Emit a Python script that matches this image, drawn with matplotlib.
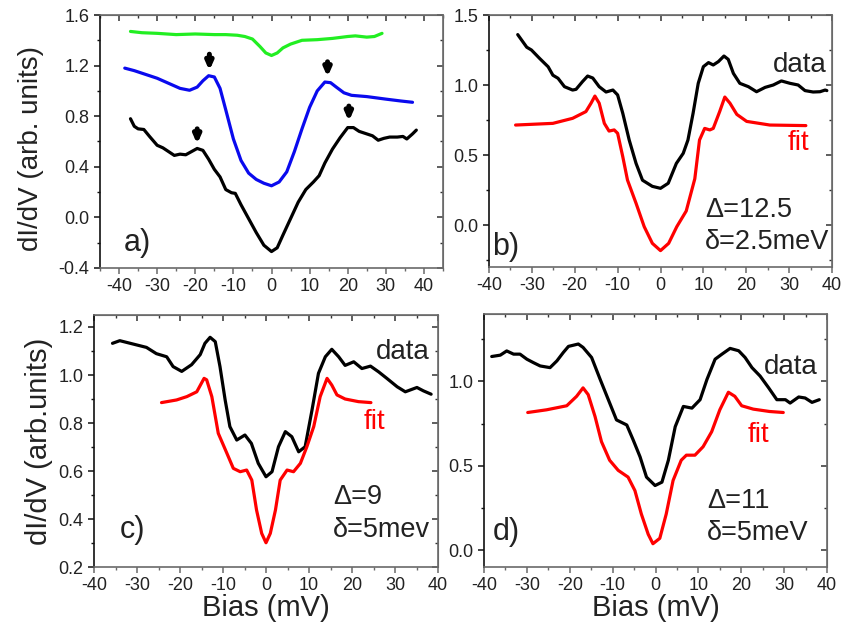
import matplotlib
matplotlib.use("Agg")
import matplotlib.pyplot as plt
from matplotlib.ticker import MultipleLocator

plt.rcParams['font.family'] = ['Liberation Sans', 'DejaVu Sans']
plt.rcParams['axes.unicode_minus'] = False
plt.rcParams['lines.solid_joinstyle'] = 'round'
plt.rcParams['lines.solid_capstyle'] = 'round'

# ---------------- Panel a ----------------
a_green_x = [-37, -34, -30, -25, -20, -15, -12, -9, -7, -5, -3, -1.5, 0, 1.5, 3, 5, 8, 12, 16, 20, 22, 25, 27, 29]
a_green_y = [1.47, 1.46, 1.455, 1.445, 1.45, 1.445, 1.445, 1.44, 1.43, 1.41, 1.35, 1.30, 1.28, 1.30, 1.34, 1.37,
             1.40, 1.405, 1.415, 1.43, 1.435, 1.425, 1.43, 1.455]

a_blue_x = [-38.5, -36, -33, -30, -27, -24, -21.5, -19.5, -18, -16.5, -15, -13.5, -12, -10, -8, -6, -4, -2, 0,
            2, 4, 6, 8, 10, 12, 14, 15.5, 17, 19, 21, 25, 30, 34, 37]
a_blue_y = [1.18, 1.16, 1.13, 1.10, 1.06, 1.02, 1.005, 1.03, 1.08, 1.12, 1.11, 1.02, 0.85, 0.62, 0.45, 0.35, 0.30,
            0.27, 0.25, 0.28, 0.36, 0.52, 0.70, 0.87, 1.00, 1.07, 1.065, 1.03, 0.985, 0.965, 0.955, 0.935, 0.92, 0.91]

a_black_x = [-37, -36, -35, -33.5, -32, -30, -28.5, -27, -25.5, -24, -22.5, -21, -19.5, -18, -16.5, -15, -13.5,
             -12, -10.5, -9.5, -8, -6, -4, -2, 0, 1.5, 3, 5, 7, 9, 11, 12.5, 14, 16, 18, 20, 21.5, 23, 25, 26.5,
             28, 29.5, 31, 33, 34.5, 35.5, 37, 38]
a_black_y = [0.78, 0.72, 0.70, 0.695, 0.64, 0.57, 0.55, 0.52, 0.49, 0.50, 0.495, 0.52, 0.545, 0.53, 0.46, 0.38,
             0.32, 0.22, 0.195, 0.19, 0.10, -0.01, -0.12, -0.22, -0.27, -0.24, -0.14, -0.01, 0.12, 0.22, 0.28,
             0.33, 0.43, 0.54, 0.63, 0.71, 0.71, 0.68, 0.66, 0.645, 0.61, 0.625, 0.635, 0.635, 0.64, 0.62, 0.66, 0.69]

# arrows (x, tip y, tail y)
a_arrow_x = [-16.3, 14.7, -19.5, 20.3]
a_arrow_tip = [1.16, 1.11, 0.58, 0.76]
a_arrow_tail = [1.29, 1.23, 0.70, 0.88]

# ---------------- Panel b ----------------
b_data_x = [-33.3, -31.2, -30.1, -28.2, -26.2, -25.1, -23.9, -22.4, -20.5, -19.7, -18.2, -17.0, -15.8, -14.3,
            -12.7, -11.1, -10.0, -8.8, -7.3, -5.7, -4.2, -1.9, 0, 1.8, 3.7, 5.3, 6.4, 7.6, 8.8, 10.0, 11.2, 12.3,
            13.5, 14.8, 15.8, 17.0, 18.5, 20.5, 22.4, 24.4, 26.3, 28.2, 30.2, 32.1, 33.7, 35.6, 37.2, 38.4, 38.8]
b_data_y = [1.36, 1.27, 1.25, 1.19, 1.13, 1.07, 1.048, 0.988, 0.964, 0.969, 1.024, 1.064, 1.05, 0.988, 0.95,
            0.964, 0.929, 0.798, 0.607, 0.44, 0.32, 0.276, 0.262, 0.298, 0.44, 0.512, 0.607, 0.798, 1.012, 1.131,
            1.16, 1.143, 1.167, 1.207, 1.183, 1.083, 1.012, 0.988, 0.952, 0.983, 1.0, 1.029, 1.012, 1.0, 0.96,
            0.95, 0.952, 0.964, 0.96]

b_fit_x = [-33.8, -25.1, -20.5, -17.4, -16.2, -15.3, -14.3, -13.1, -12.0, -10.8, -10.0, -8.8, -7.7, -5.7, -3.8,
           -1.9, 0, 1.9, 3.8, 6.0, 8.0, 9.1, 10.3, 11.5, 12.3, 13.8, 15.0, 16.2, 17.8, 20.1, 25.5, 33.9]
b_fit_y = [0.714, 0.726, 0.762, 0.81, 0.87, 0.921, 0.87, 0.726, 0.671, 0.679, 0.655, 0.488, 0.321, 0.155, -0.012,
           -0.131, -0.183, -0.131, -0.012, 0.10, 0.33, 0.607, 0.69, 0.679, 0.69, 0.81, 0.914, 0.87, 0.79, 0.74,
           0.714, 0.71]

# ---------------- Panel c ----------------
c_data_x = [-35.7, -34.0, -30.9, -27.8, -25.5, -23.1, -21.6, -19.6, -17.3, -15.3, -14.2, -13.0, -11.8, -10.7,
            -9.5, -8.4, -6.8, -4.9, -3.4, -1.8, 0, 1.4, 2.9, 4.5, 6.0, 7.6, 9.1, 10.7, 12.2, 13.8, 15.3, 16.9, 18.4,
            20.4, 22.3, 24.3, 26.2, 28.1, 30.5, 32.4, 35.1, 36.6, 38.4]
c_data_y = [1.132, 1.143, 1.129, 1.115, 1.089, 1.076, 1.035, 1.015, 1.043, 1.085, 1.132, 1.157, 1.139, 1.035,
            0.896, 0.785, 0.729, 0.75, 0.715, 0.632, 0.576, 0.597, 0.701, 0.764, 0.743, 0.680, 0.701, 0.854, 1.007,
            1.076, 1.107, 1.076, 1.04, 1.055, 1.027, 1.037, 1.013, 0.986, 0.951, 0.93, 0.948, 0.934, 0.92]

c_fit_x = [-24.3, -20.8, -18.4, -16.1, -14.4, -13.8, -12.6, -11.1, -9.1, -7.6, -6.0, -4.5, -3.3, -2.2, -1.0, 0,
           1.0, 2.2, 3.3, 4.9, 6.4, 8.0, 9.5, 11.1, 12.6, 14.2, 15.3, 16.5, 18.4, 21.5, 24.4]
c_fit_y = [0.885, 0.896, 0.910, 0.930, 0.986, 0.98, 0.91, 0.757, 0.674, 0.611, 0.597, 0.604, 0.562, 0.4375, 0.340,
           0.301, 0.34, 0.4375, 0.562, 0.604, 0.597, 0.632, 0.701, 0.785, 0.910, 0.986, 0.958, 0.917, 0.90, 0.889,
           0.885]

# ---------------- Panel d ----------------
d_data_x = [-38.2, -36.2, -34.7, -33.1, -31.6, -30.0, -28.5, -26.9, -24.6, -23.0, -21.5, -20.3, -18.0, -16.9,
            -14.9, -12.9, -11.0, -9.1, -6.7, -5.2, -3.6, -2.1, -0.1, 1.5, 3.0, 4.6, 6.5, 8.5, 10.4, 12.0, 13.9,
            15.5, 17.4, 19.4, 20.9, 22.5, 24.4, 26.4, 28.3, 30.3, 31.4, 33.4, 34.9, 36.5, 38.2]
d_data_y = [1.148, 1.156, 1.181, 1.162, 1.162, 1.132, 1.112, 1.092, 1.082, 1.122, 1.172, 1.208, 1.222, 1.202,
            1.142, 1.012, 0.892, 0.772, 0.742, 0.653, 0.553, 0.433, 0.383, 0.403, 0.533, 0.732, 0.852, 0.842, 0.892,
            1.012, 1.132, 1.162, 1.196, 1.182, 1.142, 1.082, 1.032, 0.962, 0.892, 0.892, 0.872, 0.908, 0.902, 0.876,
            0.892]

d_fit_x = [-29.8, -25.4, -20.7, -18.4, -16.9, -15.7, -14.1, -12.6, -10.7, -8.7, -6.4, -4.8, -3.3, -1.7, -0.6,
           1.0, 2.5, 4.1, 6.0, 7.2, 9.2, 11.1, 13.1, 15.0, 17.0, 18.5, 20.1, 22.8, 26.6, 29.8]
d_fit_y = [0.816, 0.832, 0.856, 0.912, 0.962, 0.922, 0.792, 0.643, 0.533, 0.473, 0.433, 0.353, 0.214, 0.094,
           0.038, 0.07, 0.214, 0.413, 0.533, 0.563, 0.563, 0.613, 0.702, 0.832, 0.936, 0.912, 0.856, 0.836, 0.822,
           0.816]

x_ticks = [-40, -30, -20, -10, 0, 10, 20, 30, 40]

TXT = '#222222'
SPINE = '#6a6a6a'
LW = 2.3

fig = plt.figure(figsize=(8.44, 6.30), dpi=100)


def style(ax, xlim, ylim, ymaj, ymin):
    ax.set_xlim(*xlim)
    ax.set_ylim(*ylim)
    ax.set_xticks(x_ticks)
    ax.xaxis.set_minor_locator(MultipleLocator(5))
    ax.yaxis.set_major_locator(MultipleLocator(ymaj))
    ax.yaxis.set_minor_locator(MultipleLocator(ymin))
    for s in ['top', 'right', 'bottom']:
        ax.spines[s].set_color(SPINE)
    ax.spines['left'].set_color('#111111')
    for s in ax.spines.values():
        s.set_linewidth(1.2)
    ax.tick_params(which='both', direction='out', labelsize=13, labelcolor=TXT)
    ax.tick_params(axis='x', which='both', colors=SPINE, labelcolor=TXT)
    ax.tick_params(axis='y', which='both', colors='#111111', labelcolor=TXT)
    ax.tick_params(which='major', length=4, width=1.1)
    ax.tick_params(which='minor', length=2.5, width=1.0)
    top = ax.secondary_xaxis('top')
    top.set_xticks(x_ticks)
    top.xaxis.set_minor_locator(MultipleLocator(5))
    top.tick_params(which='both', direction='in', labeltop=False, colors='#333333')
    top.tick_params(which='major', length=4, width=1.1)
    top.tick_params(which='minor', length=2.5, width=1.0)
    top.spines['top'].set_color(SPINE)
    right = ax.secondary_yaxis('right')
    right.yaxis.set_major_locator(MultipleLocator(ymaj))
    right.yaxis.set_minor_locator(MultipleLocator(ymin))
    right.tick_params(which='both', direction='in', labelright=False, colors='#333333')
    right.tick_params(which='major', length=4, width=1.1)
    right.tick_params(which='minor', length=2.5, width=1.0)
    right.spines['right'].set_color(SPINE)


# Panel a
axa = fig.add_axes([100 / 844, 1 - 268 / 630, 343 / 844, 253 / 630])
axa.plot(a_green_x, a_green_y, color='#22ee22', lw=LW)
axa.plot(a_blue_x, a_blue_y, color='#0a0aee', lw=LW)
axa.plot(a_black_x, a_black_y, color='black', lw=LW)
for xx, tip, tail in zip(a_arrow_x, a_arrow_tip, a_arrow_tail):
    axa.annotate('', xy=(xx, tip), xytext=(xx, tail),
                 arrowprops=dict(arrowstyle='-|>,head_width=0.2,head_length=0.45', color='black', lw=3.6,
                                 shrinkA=0, shrinkB=0))
style(axa, (-45, 45), (-0.4, 1.6), 0.4, 0.2)
axa.text(-38.7, -0.20, 'a)', fontsize=22, color=TXT, va='center', ha='left')
fig.text(31 / 844, 1 - 148 / 630, 'dI/dV (arb. units)', rotation=90, fontsize=20, color=TXT,
         ha='center', va='center')

# Panel b
axb = fig.add_axes([489 / 844, 1 - 267 / 630, 343 / 844, 252 / 630])
axb.plot(b_data_x, b_data_y, color='black', lw=LW)
axb.plot(b_fit_x, b_fit_y, color='#ff0000', lw=LW)
style(axb, (-40, 40), (-0.3, 1.5), 0.5, 0.25)
axb.text(38.8, 1.14, 'data', fontsize=20, color=TXT, ha='right', va='center')
axb.text(34.6, 0.585, 'fit', fontsize=20, color='#ff0000', ha='right', va='center')
axb.text(10.4, 0.107, '\u0394=12.5', fontsize=19.5, color=TXT, ha='left', va='center')
axb.text(10.4, -0.12, '\u03b4=2.5meV', fontsize=19.5, color=TXT, ha='left', va='center')
axb.text(-39.3, -0.157, 'b)', fontsize=22, color=TXT, ha='left', va='center')

# Panel c
axc = fig.add_axes([94 / 844, 0.1, 344 / 844, 252 / 630])
axc.plot(c_data_x, c_data_y, color='black', lw=LW)
axc.plot(c_fit_x, c_fit_y, color='#ff0000', lw=LW)
style(axc, (-40, 40), (0.2, 1.25), 0.2, 0.1)
axc.text(38.1, 1.096, 'data', fontsize=20, color=TXT, ha='right', va='center')
axc.text(27.7, 0.804, 'fit', fontsize=20, color='#ff0000', ha='right', va='center')
axc.text(15.6, 0.49, '\u0394=9', fontsize=19.5, color=TXT, ha='left', va='center')
axc.text(15.6, 0.354, '\u03b4=5mev', fontsize=19.5, color=TXT, ha='left', va='center')
axc.text(-34.0, 0.354, 'c)', fontsize=22, color=TXT, ha='left', va='center')
axc.set_xlabel('Bias (mV)', fontsize=21, color=TXT, labelpad=0)
axc.set_ylabel('dI/dV (arb.units)', fontsize=21, color=TXT, labelpad=4)

# Panel d
axd = fig.add_axes([484 / 844, 0.1, 343 / 844, 253 / 630])
axd.plot(d_data_x, d_data_y, color='black', lw=LW)
axd.plot(d_fit_x, d_fit_y, color='#ff0000', lw=LW)
style(axd, (-40, 40), (-0.1, 1.4), 0.5, 0.25)
axd.text(37.9, 1.084, 'data', fontsize=20, color=TXT, ha='right', va='center')
axd.text(26.5, 0.683, 'fit', fontsize=20, color='#ff0000', ha='right', va='center')
axd.text(12.0, 0.293, '\u0394=11', fontsize=19.5, color=TXT, ha='left', va='center')
axd.text(12.0, 0.10, '\u03b4=5meV', fontsize=19.5, color=TXT, ha='left', va='center')
axd.text(-37.9, 0.11, 'd)', fontsize=22, color=TXT, ha='left', va='center')
axd.set_xlabel('Bias (mV)', fontsize=21, color=TXT, labelpad=0)

fig.savefig('out.png', dpi=100)
